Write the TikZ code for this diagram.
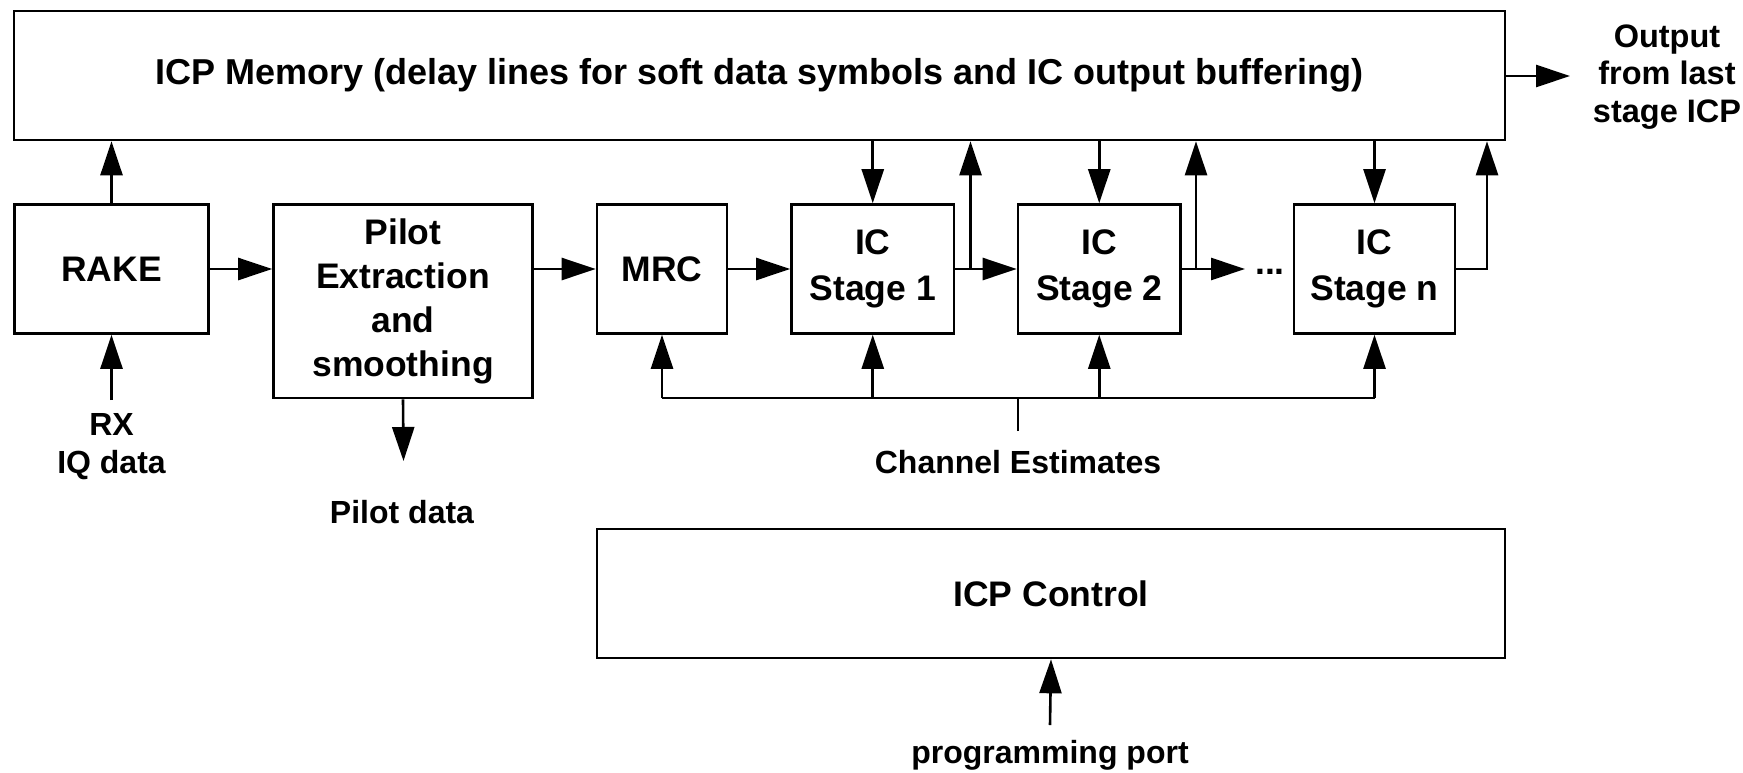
\documentclass[tikz,border=0pt]{standalone}
\usepackage{fontspec}
\setmainfont{Liberation Sans}
\usetikzlibrary{arrows.meta}
\begin{document}
\begin{tikzpicture}[x=1pt,y=-1pt,
  blk/.style={draw,line width=2.6pt,inner sep=0pt,align=center,font=\fontsize{35.5}{45}\selectfont\bfseries},
  stg/.style={blk,minimum height=129pt,font=\fontsize{35.5}{46.5}\selectfont\bfseries},
  lbl/.style={inner sep=0pt,align=center,font=\fontsize{32}{38}\selectfont\bfseries},
  wire/.style={line width=2.6pt},
  arr/.style={wire,-{Triangle[length=34pt,width=22pt]}}]
\useasboundingbox (0,0) rectangle (1743,772);
\node[blk,minimum width=1491pt,minimum height=129pt,font=\fontsize{36}{45}\selectfont\bfseries] (mem) at (759.5,75.5) {ICP Memory (delay lines for soft data symbols and IC output buffering)};
\node[blk,minimum width=194.5pt,minimum height=129pt] (rake) at (111.5,269) {RAKE};
\node[blk,minimum width=259pt,minimum height=193.5pt,font=\fontsize{35.5}{44}\selectfont\bfseries] (pilot) at (403,301.25) {\raisebox{-2pt}{\begin{tabular}{@{}c@{}}Pilot\\Extraction\\and\\smoothing\end{tabular}}};
\node[blk,minimum width=130pt,minimum height=129pt] (mrc) at (662,269) {MRC};
\node[stg,minimum width=162.5pt] (ic1) at (872.75,269) {IC\\Stage 1};
\node[stg,minimum width=162.5pt] (ic2) at (1099.25,269) {IC\\Stage 2};
\node[stg,minimum width=161pt] (icn) at (1374.5,269) {IC\\Stage n};
\node[blk,minimum width=908pt,minimum height=129pt] (ctrl) at (1051,593.5) {ICP Control};
\node[blk,draw=none] (dots) at (1270,272) {...};
% labels
\node[lbl,font=\fontsize{32.5}{37.5}\selectfont\bfseries] (out) at (1667,77) {Output\\from last\\stage ICP};
\node[lbl] (rx) at (111.5,447) {RX\\IQ data};
\node[lbl] (pd) at (402,512) {Pilot data};
\node[lbl] (ce) at (1018,462) {Channel Estimates};
\node[lbl] (pp) at (1050,755) {programming port};
% coordinates
\coordinate (rxin) at (111.5,400);
\coordinate (outtip) at (1570,76);
\coordinate (pdtip) at (403.5,461);
\coordinate (j1) at (970.5,269);
\coordinate (j2) at (1196,269);
\coordinate (jn) at (1487,269);
\coordinate (dotin) at (1245,269);
\coordinate (bus) at (1018,398);
\coordinate (cestem) at (1018,431);
\coordinate (ppin) at (1050,725);
% connectors
\draw[arr] (rake.north) -- (rake.north |- mem.south);
\draw[arr] (rxin) -- (rake.south);
\draw[arr] (rake.east) -- (rake.east -| pilot.west);
\draw[arr] (mrc.west -| pilot.east) -- (mrc.west);
\draw[arr] (mrc.east) -- (ic1.west);
\draw[arr] (ic1.east) -- (ic2.west);
\draw[arr] (ic2.east) -- (dotin);
\draw[arr] (j1) -- (j1 |- mem.south);
\draw[arr] (j2) -- (j2 |- mem.south);
\draw[arr] (icn.east) -- (jn) -- (jn |- mem.south);
\draw[arr] (ic1.north |- mem.south) -- (ic1.north);
\draw[arr] (ic2.north |- mem.south) -- (ic2.north);
\draw[arr] (icn.north |- mem.south) -- (icn.north);
\draw[arr] (mem.east |- outtip) -- (outtip);
\draw[arr] (pilot.south) -- (pdtip);
\draw[wire] (mrc.south |- bus) -- (icn.south |- bus);
\draw[wire] (cestem) -- (bus);
\draw[arr] (mrc.south |- bus) -- (mrc.south);
\draw[arr] (ic1.south |- bus) -- (ic1.south);
\draw[arr] (ic2.south |- bus) -- (ic2.south);
\draw[arr] (icn.south |- bus) -- (icn.south);
\draw[arr] (ppin) -- (ctrl.south);
\end{tikzpicture}
\end{document}
